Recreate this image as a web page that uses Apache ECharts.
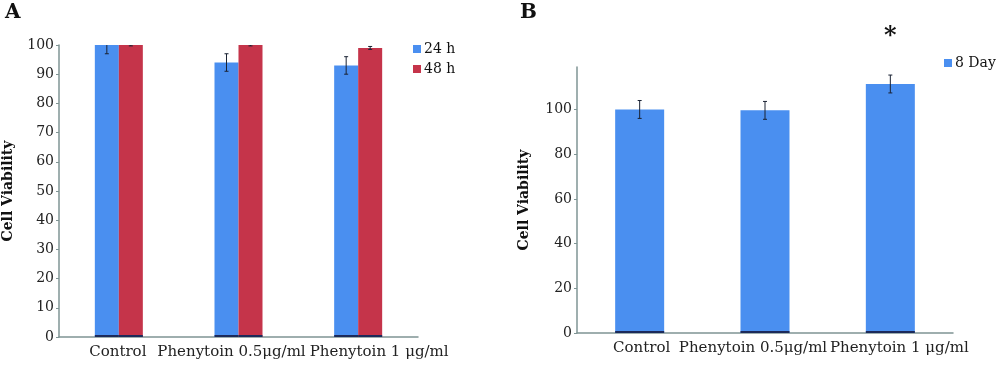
<!DOCTYPE html>
<html><head><meta charset="utf-8">
<script src="https://cdn.jsdelivr.net/npm/echarts@6/dist/echarts.min.js"></script>
<style>html,body{margin:0;padding:0;background:#fff}#c{width:1000px;height:370px}</style>
</head><body><div id="c"></div>
<script>
const categories = ['Control', 'Phenytoin 0.5μg/ml', 'Phenytoin 1 μg/ml'];
const a24 = [100, 94, 93];
const a24err = [3, 3, 3];
const a48 = [100, 100, 99];
const a48err = [0.3, 0.3, 0.5];
const b8 = [100, 99.6, 111.4];
const b8err = [4, 4, 4];
const bSig = ['', '', '*'];
const yTicksA = [0, 10, 20, 30, 40, 50, 60, 70, 80, 90, 100];
const yTicksB = [0, 20, 40, 60, 80, 100];
// horizontal nudges of the category labels (px), as laid out in the original
const labelShiftA = [-1, -7, 21];
const labelShiftB = [2, -12, 9];

const BLUE = '#4a8ff0', RED = '#c5344a', AXIS = '#7f9494', FONT = 'DejaVu Serif';
const chart = echarts.init(document.getElementById('c'));

function catData(shifts) {
  return categories.map((c, i) => {
    const d = shifts[i];
    return { value: c, textStyle: { padding: d >= 0 ? [0, 0, 0, 2 * d] : [0, -2 * d, 0, 0] } };
  });
}

function errSeries(name, xi, yi, vals, errs, offset) {
  return {
    type: 'custom', name: name, xAxisIndex: xi, yAxisIndex: yi, clip: true, z: 10,
    data: vals.map((v, i) => [i, v, errs[i]]),
    renderItem: function (params, api) {
      const i = api.value(0), v = api.value(1), e = api.value(2);
      const hi = api.coord([i, v + e]), lo = api.coord([i, v - e]);
      const x = hi[0] + offset;
      const st = { stroke: '#1a2233', lineWidth: 1 };
      return { type: 'group', children: [
        { type: 'line', shape: { x1: x, y1: hi[1], x2: x, y2: lo[1] }, style: st },
        { type: 'line', shape: { x1: x - 2, y1: hi[1], x2: x + 2, y2: hi[1] }, style: st },
        { type: 'line', shape: { x1: x - 2, y1: lo[1], x2: x + 2, y2: lo[1] }, style: st }
      ]};
    }
  };
}
function baseSeries(xi, yi, n, offset, half) {
  return {
    type: 'custom', xAxisIndex: xi, yAxisIndex: yi, z: 9, silent: true,
    data: Array.from({length: n}, (_, i) => [i, 0]),
    renderItem: function (params, api) {
      const p = api.coord([api.value(0), 0]);
      return { type: 'rect', shape: { x: p[0] + offset - half, y: p[1] - 2, width: half * 2, height: 2 }, style: { fill: '#1c2a5a' } };
    }
  };
}

const yAxisCommon = {
  axisLine: { show: true, lineStyle: { color: AXIS, width: 1.5 } },
  axisTick: { show: true, length: 3, lineStyle: { color: AXIS } },
  splitLine: { show: false },
  axisLabel: { color: '#222', fontFamily: FONT, fontSize: 14, margin: 5 },
  nameLocation: 'middle', nameRotate: 90,
  nameTextStyle: { color: '#111', fontFamily: FONT, fontWeight: 'bold', fontSize: 14 }
};
const xAxisCommon = {
  type: 'category',
  axisLine: { show: true, lineStyle: { color: AXIS, width: 1.5 } },
  axisTick: { show: false },
  axisLabel: { color: '#222', fontFamily: FONT, fontSize: 15, margin: 8, interval: 0 }
};

chart.setOption({
  animation: false,
  title: [
    { text: 'A', left: 0, top: -2, textStyle: { fontFamily: FONT, fontWeight: 'bold', fontSize: 20, color: '#111' } },
    { text: 'B', left: 515, top: -2, textStyle: { fontFamily: FONT, fontWeight: 'bold', fontSize: 20, color: '#111' } }
  ],
  legend: [
    { data: ['24 h', '48 h'], orient: 'vertical', left: 408, top: 37, itemWidth: 8, itemHeight: 8, itemGap: 6, icon: 'rect',
      textStyle: { fontFamily: FONT, fontSize: 14, color: '#111', padding: [0, 0, 0, -2] } },
    { data: ['8 Day'], orient: 'vertical', left: 939, top: 51, itemWidth: 8, itemHeight: 8, icon: 'rect',
      textStyle: { fontFamily: FONT, fontSize: 14, color: '#111', padding: [0, 0, 0, -2] } }
  ],
  grid: [
    { left: 58, top: 45, width: 360, height: 292 },
    { left: 577, top: 67, width: 376, height: 266 }
  ],
  xAxis: [
    Object.assign({ gridIndex: 0, data: catData(labelShiftA) }, xAxisCommon),
    Object.assign({ gridIndex: 1, data: catData(labelShiftB) }, xAxisCommon)
  ],
  yAxis: [
    Object.assign({}, yAxisCommon, { gridIndex: 0, type: 'value', min: yTicksA[0], max: yTicksA[yTicksA.length - 1], interval: 10, name: 'Cell Viability', nameGap: 44 }),
    Object.assign({}, yAxisCommon, { gridIndex: 1, type: 'value', min: yTicksB[0], max: 119, interval: 20, name: 'Cell Viability', nameGap: 46,
      axisLabel: Object.assign({}, yAxisCommon.axisLabel, { showMaxLabel: false }) })
  ],
  series: [
    { name: '24 h', type: 'bar', xAxisIndex: 0, yAxisIndex: 0, data: a24, barWidth: 24, barGap: '0%', itemStyle: { color: BLUE } },
    { name: '48 h', type: 'bar', xAxisIndex: 0, yAxisIndex: 0, data: a48, barWidth: 24, barGap: '0%', itemStyle: { color: RED } },
    errSeries('e24', 0, 0, a24, a24err, -12),
    errSeries('e48', 0, 0, a48, a48err, 12),
    baseSeries(0, 0, 3, -12, 12),
    baseSeries(0, 0, 3, 12, 12),
    { name: '8 Day', type: 'bar', xAxisIndex: 1, yAxisIndex: 1, data: b8, barWidth: 49, itemStyle: { color: BLUE } },
    errSeries('e8', 1, 1, b8, b8err, 0),
    baseSeries(1, 1, 3, 0, 24.5),
    {
      type: 'custom', xAxisIndex: 1, yAxisIndex: 1, clip: false, z: 11,
      data: b8.map((v, i) => [i, v + b8err[i]]),
      renderItem: function (params, api) {
        const p = api.coord([api.value(0), api.value(1)]);
        return { type: 'text', x: p[0], y: p[1] - 38, style: { text: bSig[params.dataIndex], fontSize: 24, fontWeight: 'bold', fontFamily: FONT, fill: '#111', align: 'center', verticalAlign: 'middle' } };
      }
    }
  ]
});
</script></body></html>
